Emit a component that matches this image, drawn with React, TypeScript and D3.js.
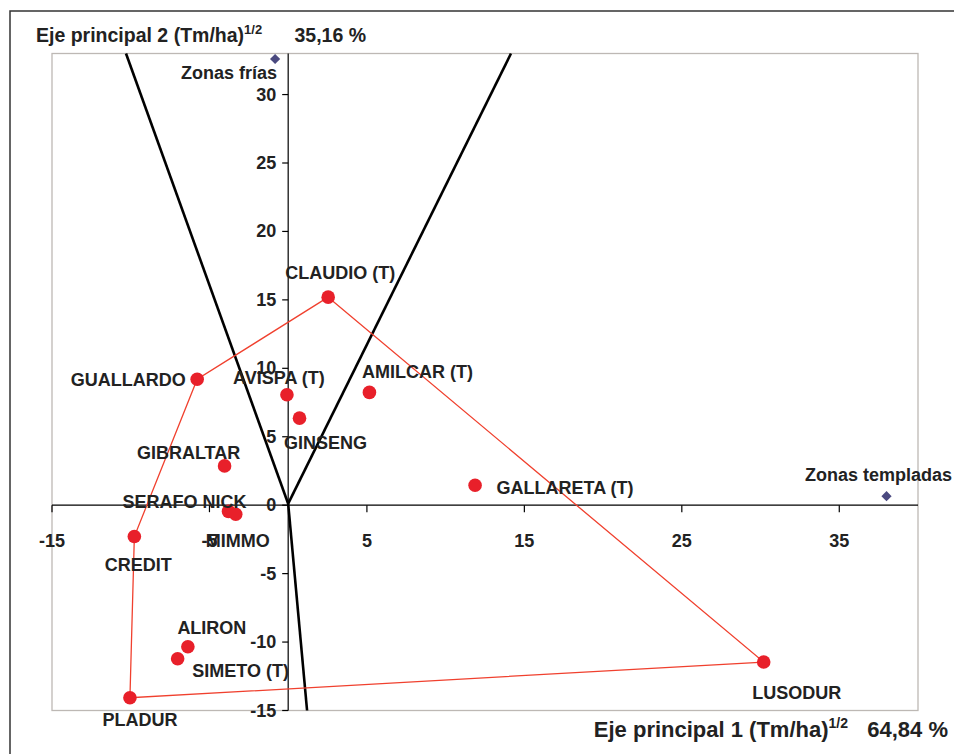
import * as d3 from 'd3';

// Cultivar names and their biplot coordinates (PC1, PC2)
const names: string[] = ['CLAUDIO (T)', 'GUALLARDO', 'AVISPA (T)', 'AMILCAR (T)', 'GINSENG', 'GIBRALTAR', 'SERAFO NICK', 'MIMMO', 'GALLARETA (T)', 'LUSODUR', 'CREDIT', 'ALIRON', 'SIMETO (T)', 'PLADUR'];
const pc1: number[] = [2.54, -5.78, -0.08, 5.16, 0.72, -4.04, -3.79, -3.33, 11.87, 30.2, -9.77, -6.37, -7.02, -10.05];
const pc2: number[] = [15.2, 9.2, 8.07, 8.24, 6.36, 2.87, -0.45, -0.66, 1.46, -11.46, -2.29, -10.34, -11.22, -14.07];

// polygon vertices (convex hull), by name
const hull: string[] = ['CLAUDIO (T)', 'LUSODUR', 'PLADUR', 'CREDIT', 'GUALLARDO', 'CLAUDIO (T)'];

// environment markers
const envNames: string[] = ['Zonas frías', 'Zonas templadas'];
const envX: number[] = [-0.83, 38.0];
const envY: number[] = [32.6, 0.66];

// sector rays from origin (end points)
const rayX: number[] = [-10.3, 14.15, 1.2];
const rayY: number[] = [33, 33, -15];

const xTicks: number[] = [-15, -5, 5, 15, 25, 35];
const yTicks: number[] = [-15, -10, -5, 0, 5, 10, 15, 20, 25, 30];

// label offsets in px (layout only)
const labelOffset: Record<string, [number, number]> = {
  'CLAUDIO (T)': [12, -24],
  'GUALLARDO': [-69, 1],
  'AVISPA (T)': [-8, -17],
  'AMILCAR (T)': [48, -20],
  'GINSENG': [26, 25],
  'GIBRALTAR': [-36, -13],
  'SERAFO NICK': [-44, -9],
  'MIMMO': [2, 27],
  'GALLARETA (T)': [90, 3],
  'LUSODUR': [33, 31],
  'CREDIT': [4, 28],
  'ALIRON': [24, -19],
  'SIMETO (T)': [63, 12],
  'PLADUR': [10, 22],
};

export default function App() {
  const width = 954;
  const height = 754;
  const left = 52, right = 918, top = 53.5, bottom = 710.5;

  const x = d3.scaleLinear().domain([-15, 40]).range([left, right]);
  const y = d3.scaleLinear().domain([-15, 33]).range([bottom, top]);

  const font = "'Liberation Sans', Arial, sans-serif";
  const txt = '#222';
  const fs = 18;

  const idx = (n: string) => names.indexOf(n);
  const hullLine = d3.line<string>()
    .x(n => x(pc1[idx(n)]))
    .y(n => y(pc2[idx(n)]));

  // rotated square = diamond marker
  const diamond = d3.symbol().type(d3.symbolSquare).size(52)();

  return (
    <svg width={width} height={height} style={{ position: 'absolute', left: 0, top: 0, background: '#fff' }} fontFamily={font}>
      {/* outer frame */}
      <path d={`M10,${height}V11H${width}`} fill="none" stroke="#333" strokeWidth={1.5} />

      {/* plot area border */}
      <rect x={left} y={top} width={right - left} height={bottom - top} fill="none" stroke="#bdb8b4" strokeWidth={1.3} />

      {/* axes */}
      <line x1={left} x2={right} y1={y(0)} y2={y(0)} stroke="#000" strokeWidth={1.2} />
      <line x1={x(0)} x2={x(0)} y1={top} y2={bottom} stroke="#000" strokeWidth={1.2} />
      {xTicks.map(t => (
        <g key={'x' + t}>
          <line x1={x(t)} x2={x(t)} y1={y(0)} y2={y(0) + 7} stroke="#000" strokeWidth={1.2} />
          <text x={x(t)} y={541} textAnchor="middle" dominantBaseline="central" fontSize={fs} fontWeight="bold" fill={txt}>{t}</text>
        </g>
      ))}
      {yTicks.map(t => (
        <g key={'y' + t}>
          <line x1={x(0) - 6} x2={x(0)} y1={y(t)} y2={y(t)} stroke="#000" strokeWidth={1.2} />
          <text x={x(0) - 12} y={y(t)} textAnchor="end" dominantBaseline="central" fontSize={fs} fontWeight="bold" fill={txt}>{t}</text>
        </g>
      ))}

      {/* sector rays */}
      {rayX.map((rx, i) => (
        <line key={'r' + i} x1={x(0)} y1={y(0) - 1.5} x2={x(rx)} y2={y(rayY[i])} stroke="#000" strokeWidth={2.6} />
      ))}

      {/* polygon */}
      <path d={hullLine(hull) || ''} fill="none" stroke="#f0402e" strokeWidth={1.3} />

      {/* cultivar points */}
      {names.map((n, i) => (
        <circle key={'c' + n} cx={x(pc1[i])} cy={y(pc2[i])} r={6.8} fill="#e8202a" />
      ))}
      {names.map((n, i) => {
        const [dx, dy] = labelOffset[n];
        return (
          <text key={'l' + n} x={x(pc1[i]) + dx} y={y(pc2[i]) + dy} textAnchor="middle" dominantBaseline="central" fontSize={fs} fontWeight="bold" fill={txt}>{n}</text>
        );
      })}

      {/* environments */}
      {envNames.map((n, i) => (
        <path key={'d' + n} d={diamond} transform={`translate(${x(envX[i])},${y(envY[i])}) rotate(45)`} fill="#4b4a80" />
      ))}
      <text x={x(envX[0]) + 2} y={73} textAnchor="end" dominantBaseline="central" fontSize={fs} fontWeight="bold" fill={txt}>{envNames[0]}</text>
      <text x={952} y={475} textAnchor="end" dominantBaseline="central" fontSize={fs} fontWeight="bold" fill={txt}>{envNames[1]}</text>

      {/* axis titles */}
      <text x={36} y={42} fontSize={19.5} fontWeight="bold" fill={txt}>
        Eje principal 2 (Tm/ha)<tspan fontSize={13} dy={-8}>1/2</tspan>
      </text>
      <text x={366} y={42} textAnchor="end" fontSize={19.5} fontWeight="bold" fill={txt}>35,16 %</text>
      <text x={848} y={737} textAnchor="end" fontSize={22} fontWeight="bold" fill={txt}>
        Eje principal 1 (Tm/ha)<tspan fontSize={14} dy={-9}>1/2</tspan>
      </text>
      <text x={948} y={737} textAnchor="end" fontSize={22} fontWeight="bold" fill={txt}>64,84 %</text>
    </svg>
  );
}
